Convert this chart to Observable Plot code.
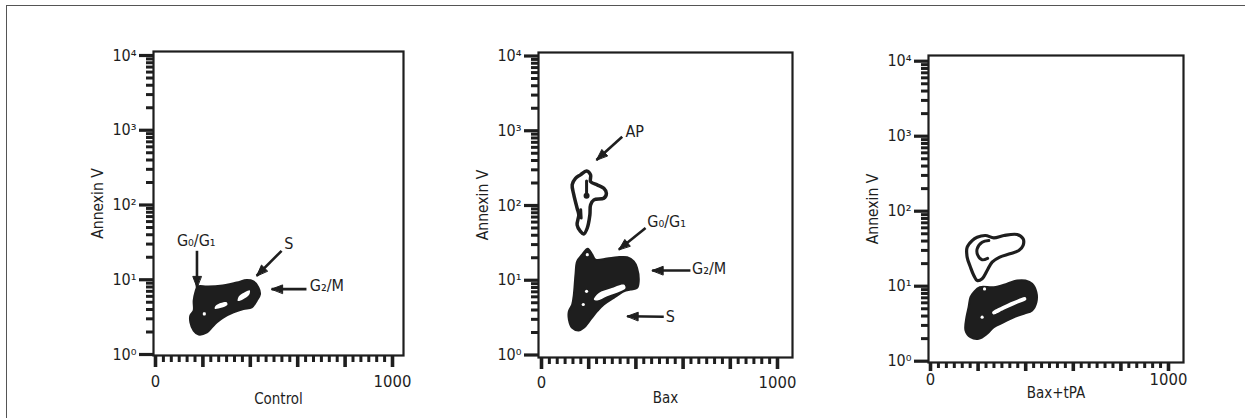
<!DOCTYPE html>
<html>
<head>
<meta charset="utf-8">
<script src="https://cdn.jsdelivr.net/npm/d3@7"></script>
<script src="https://cdn.jsdelivr.net/npm/@observablehq/plot@0.6"></script>
<style>
  html, body { margin: 0; padding: 0; background: #fff; }
  #root { position: relative; width: 1245px; height: 418px; overflow: hidden; background: #fff; }
  #border { position: absolute; left: 6px; top: 5px; width: 1300px; height: 500px;
            border-top: 1px solid #555; border-left: 1px solid #555; }
  #root svg { position: absolute; left: 0; top: 0; }
  #root svg g[aria-label="y-axis tick label"] text { font-size: 16px; }
  #root svg g[aria-label="x-axis tick label"] text { font-size: 16.5px; }
  #root svg g[aria-label="y-axis label"] text { font-size: 15.5px; }
  #root svg g[aria-label="x-axis label"] text { font-size: 15px; }
</style>
</head>
<body>
<div id="root"><div id="border"></div></div>
<script>
// ---------- data ----------
const panelTitles = ["Control", "Bax", "Bax+tPA"];
const yAxisTitle = "Annexin V";
const yTicks = [1, 10, 100, 1000, 10000];
const yTickLabels = ["10⁰", "10¹", "10²", "10³", "10⁴"];
const xMajorTicks = [0, 200, 400, 600, 800, 1000];
const xLabelTicks = [0, 1000];
const xTickLabels = ["0", "1000"];

// Control panel contours  [channel, Annexin V]
const controlOuter = [[178,8.1],[217,8.1],[273,8.3],[343,9.2],[385,9.9],[413,9.5],[434,7.9],[441,6.4],[427,5.25],[406,4.27],[371,4.07],[329,3.66],[287,3.14],[259,2.7],[238,2.31],[217,1.98],[182,1.85],[161,2.09],[147,2.7],[147,3.31],[161,3.86],[161,5.25],[168,6.77]];
const controlHoleA = [[250,4.1],[256,4.55],[300,5.0],[303,4.6]];
const controlHoleB = [[347,5.2],[352,6.0],[380,6.9],[398,7.2],[395,6.3],[370,5.5]];
const controlHoleC = [[201,3.35],[201,3.65],[211,3.65],[211,3.35]];

// Bax panel contours
const baxApOuter = [[144,231],[165,257],[191,290],[208,257],[208,209],[236,189],[264,170],[275,146],[264,125],[222,119],[208,102],[205,75],[194,50],[179,41.5],[165,45],[151,55],[158,75],[151,92],[137,139],[130,189]];
const baxApInner = [[191,212],[191,170],[191,135]];
const baxApInner2 = [[166,88],[168,68]];
const baxMainOuter = [[196,26.4],[215,22],[229,18.9],[278,19.5],[321,20.3],[363,20.3],[391,17.9],[405,14.6],[412,9.7],[405,7.9],[377,7.5],[349,7.1],[306,5.8],[264,4.74],[236,3.86],[208,2.99],[179,2.31],[158,2.13],[130,2.31],[116,2.99],[116,3.86],[130,4.74],[137,6.44],[144,11.9],[151,17.9],[172,22]];
const baxMainHole = [[222,5.53],[243,6.77],[292,7.75],[349,8.75],[356,7.9],[335,7.13],[278,6.12],[236,5.36]];
const baxSmallHoles = [[194,22],[191,7.1],[177,4.74]];

// Bax+tPA panel contours
const tpaUpperOuter = [[154,33.1],[175,40.6],[196,45],[231,47.4],[266,44.2],[308,47.4],[364,48.9],[389,42.9],[389,34.9],[371,29.9],[333,27],[291,24.4],[259,20.9],[238,16.2],[217,12.6],[196,11.9],[182,13.9],[168,17.9],[154,24.4]];
const tpaUpperInner = [[245,40.6],[217,38.6],[196,31.5],[199,25.7],[217,22.5],[240,23.5]];
const tpaLowerOuter = [[182,8.3],[207,9.7],[266,9.7],[322,10.8],[364,11.9],[399,11.9],[427,10.8],[445,8.3],[445,6.1],[427,4.74],[392,4.29],[350,3.86],[308,3.31],[266,2.84],[238,2.32],[203,1.99],[168,2.09],[147,2.57],[151,3.86],[160,5.25],[168,7.13]];
const tpaLowerHole = [[259,4.5],[308,5.53],[364,6.59],[399,7.13],[402,6.59],[364,5.82],[308,4.84],[264,4.2]];
const tpaSmallHoles = [[217,3.86],[227,9.2]];

// annotations: arrows [x1, y1, x2, y2] and labels [x, y, text, anchor]
const controlArrows = [[175,24.4,175,7.9],[532,24.4,427,11.3],[637,7.5,490,7.5]];
const controlLabels = [[172,33,"G₀/G₁","middle"],[563,30,"S","middle"],[651,8.3,"G₂/M","start"]];
const baxArrows = [[342,832,233,407],[441,49.9,328,25.7],[631,13.5,469,13.5],[518,3.25,363,3.3]];
const baxLabels = [[356,970,"AP","start"],[448,60,"G₀/G₁","start"],[638,14.2,"G₂/M","start"],[527,3.2,"S","start"]];

// ---------- layout (pixels) ----------
const W = 1245, H = 418;
const layouts = [
  {left:153, right:403, top:51, bottom:355, x0:155, x1000:392, y1:354, y10k:55, pad:20, titleOff:48.5, major:12, minor:7},
  {left:538, right:792, top:52, bottom:357, x0:541, x1000:777, y1:354.5, y10k:55.5, pad:19, titleOff:45.5, major:12, minor:7},
  {left:928, right:1183, top:55, bottom:362, x0:930, x1000:1168, y1:360.7, y10k:60.7, pad:11, titleOff:35, major:9, minor:6}
];
const INK = "#1e1e1e";
const FONT = "'DejaVu Sans Condensed', 'Liberation Sans Narrow', 'DejaVu Sans', sans-serif";

const yMinor = d3.range(0, 4).flatMap(k => d3.range(2, 10).map(m => m * 10 ** k));
const xMinor = d3.range(0, 5).flatMap(k => d3.range(1, 6).map(m => k * 200 + m * 200 / 6));
const yLabelMap = new Map(yTicks.map((t, i) => [t, yTickLabels[i]]));
const xLabelMap = new Map(xLabelTicks.map((t, i) => [t, xTickLabels[i]]));

const pts = (arr, id) => arr.map(([x, y]) => ({x, y, id}));
function blob(arr, opts) {
  return Plot.line(pts(arr), {x: "x", y: "y", curve: "catmull-rom-closed", ...opts});
}

// pixel <-> data helpers matching each panel's scales (used for arrow-head size)
function mapper(L) {
  const kx = (L.x1000 - L.x0) / 1000, kd = (L.y1 - L.y10k) / 4;
  return {
    toPx: (v, y) => [L.x0 + v * kx, L.y1 - Math.log10(y) * kd],
    toData: (px, py) => [(px - L.x0) / kx, 10 ** ((L.y1 - py) / kd)]
  };
}

function makePanel(i, contentMarks) {
  const L = layouts[i];
  const kx = (L.x1000 - L.x0) / 1000;
  const xd = [(L.left - L.x0) / kx, (L.right - L.x0) / kx];
  const kd = (L.y1 - L.y10k) / 4;
  const yd = [10 ** (-(L.bottom - L.y1) / kd), 10 ** (4 + (L.y10k - L.top) / kd)];
  return Plot.plot({
    width: W, height: H,
    marginLeft: L.left, marginRight: W - L.right, marginTop: L.top, marginBottom: H - L.bottom,
    x: {domain: xd, axis: null},
    y: {type: "log", domain: yd, axis: null},
    style: {background: "transparent", fontFamily: FONT, fontSize: "15px", color: INK, overflow: "visible"},
    marks: [
      ...contentMarks,
      Plot.axisY(yMinor, {tickSize: 7, strokeWidth: 3, tickFormat: () => "", label: null}),
      Plot.axisY(yTicks, {tickSize: 14, strokeWidth: 3.2, tickPadding: 3, fontSize: 16,
        tickFormat: d => yLabelMap.get(d), label: yAxisTitle, labelArrow: "none",
        labelAnchor: "center", labelOffset: 62}),
      Plot.axisX(xMinor, {tickSize: L.minor, strokeWidth: 3, tickFormat: () => "", label: null}),
      Plot.axisX(xMajorTicks, {tickSize: L.major, strokeWidth: 3.6, tickFormat: () => "", label: null}),
      Plot.axisX(xLabelTicks, {tickSize: 0, tickPadding: L.pad, fontSize: 16.5,
        tickFormat: d => xLabelMap.get(d), label: panelTitles[i], labelArrow: "none",
        labelAnchor: "center", labelOffset: L.titleOff}),
      Plot.frame({stroke: INK, strokeWidth: 2.2})
    ]
  });
}

function arrowMarks(L, arrows, labels) {
  const m = mapper(L);
  const heads = arrows.flatMap(([x1, y1, x2, y2], i) => {
    const [ax, ay] = m.toPx(x1, y1), [bx, by] = m.toPx(x2, y2);
    const len = Math.hypot(bx - ax, by - ay), ux = (bx - ax) / len, uy = (by - ay) / len;
    const hl = 11, hw = 4.2;
    const cx = bx - ux * hl, cy = by - uy * hl;
    return [[bx, by], [cx - uy * hw, cy + ux * hw], [cx + uy * hw, cy - ux * hw]]
      .map(([px, py]) => { const [x, y] = m.toData(px, py); return {x, y, id: i}; });
  });
  return [
    Plot.link(arrows, {x1: d => d[0], y1: d => d[1], x2: d => d[2], y2: d => d[3],
      stroke: INK, strokeWidth: 2.6}),
    Plot.line(heads, {x: "x", y: "y", z: "id", fill: INK, stroke: INK, strokeWidth: 1,
      strokeLinejoin: "round", curve: "linear-closed"}),
    Plot.text(labels.filter(d => d[3] === "middle"), {x: d => d[0], y: d => d[1], text: d => d[2],
      textAnchor: "middle", fontSize: 16, fill: INK}),
    Plot.text(labels.filter(d => d[3] === "start"), {x: d => d[0], y: d => d[1], text: d => d[2],
      textAnchor: "start", fontSize: 16, fill: INK})
  ];
}

const holeDot = (arr) => Plot.dot(pts(arr), {x: "x", y: "y", r: 1.6, fill: "white", stroke: "none"});

const controlMarks = [
  blob(controlOuter, {fill: INK, stroke: INK, strokeWidth: 2}),
  blob(controlHoleA, {fill: "white", stroke: "none"}),
  blob(controlHoleB, {fill: "white", stroke: "none"}),
  blob(controlHoleC, {fill: "white", stroke: "none"}),
  ...arrowMarks(layouts[0], controlArrows, controlLabels)
];

const baxMarks = [
  blob(baxApOuter, {fill: "none", stroke: INK, strokeWidth: 3.5}),
  Plot.line(pts(baxApInner), {x: "x", y: "y", stroke: INK, strokeWidth: 3}),
  Plot.line(pts(baxApInner2), {x: "x", y: "y", stroke: INK, strokeWidth: 3}),
  Plot.dot(pts([[191,135]]), {x: "x", y: "y", r: 3, fill: INK}),
  blob(baxMainOuter, {fill: INK, stroke: INK, strokeWidth: 2}),
  blob(baxMainHole, {fill: "white", stroke: "none"}),
  holeDot(baxSmallHoles),
  ...arrowMarks(layouts[1], baxArrows, baxLabels)
];

const tpaMarks = [
  blob(tpaUpperOuter, {fill: "none", stroke: INK, strokeWidth: 3.2}),
  Plot.line(pts(tpaUpperInner), {x: "x", y: "y", stroke: INK, strokeWidth: 3, curve: "catmull-rom"}),
  blob(tpaLowerOuter, {fill: INK, stroke: INK, strokeWidth: 2}),
  blob(tpaLowerHole, {fill: "white", stroke: "none"}),
  holeDot(tpaSmallHoles)
];

const root = document.getElementById("root");
[controlMarks, baxMarks, tpaMarks].forEach((m, i) => root.appendChild(makePanel(i, m)));
</script>
</body>
</html>
